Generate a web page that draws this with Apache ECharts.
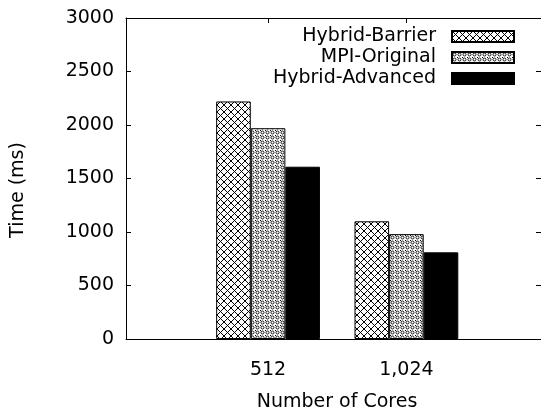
<!DOCTYPE html>
<html>
<head>
<meta charset="utf-8">
<script src="https://cdn.jsdelivr.net/npm/echarts@6/dist/echarts.min.js"></script>
<style>html,body{margin:0;padding:0;background:#fff}#c{width:541px;height:410px}</style>
</head>
<body>
<div id="c"></div>
<script>
var categories = ['512', '1,024'];
var seriesNames = ['Hybrid-Barrier', 'MPI-Original', 'Hybrid-Advanced'];
var hybridBarrier = [2220, 1100];
var mpiOriginal = [1970, 980];
var hybridAdvanced = [1610, 810];
var yTicks = [0, 500, 1000, 1500, 2000, 2500, 3000];

function makeHatch() {
  var s = 7, c = document.createElement('canvas');
  c.width = s; c.height = s;
  var g = c.getContext('2d');
  g.fillStyle = '#fff'; g.fillRect(0, 0, s, s);
  g.strokeStyle = '#000'; g.lineWidth = 1;
  g.beginPath();
  g.moveTo(-1, -1); g.lineTo(s + 1, s + 1);
  g.moveTo(-1, s + 1); g.lineTo(s + 1, -1);
  g.stroke();
  return c;
}
function makeDots() {
  var s = 5, c = document.createElement('canvas');
  c.width = s; c.height = s;
  var g = c.getContext('2d');
  g.fillStyle = '#fff'; g.fillRect(0, 0, s, s);
  g.strokeStyle = '#000'; g.lineWidth = 0.9;
  g.beginPath(); g.arc(2.5, 2.5, 1.5, 0, Math.PI * 2); g.stroke();
  g.fillStyle = '#000';
  g.fillRect(0, 0, 1, 1);
  return c;
}
var fills = [
  {image: makeHatch(), repeat: 'repeat'},
  {image: makeDots(), repeat: 'repeat'},
  '#000'
];
var values = [hybridBarrier, mpiOriginal, hybridAdvanced];
var FONT = 'DejaVu Sans';
var xMin = -1.027, xMax = 1.973;

var chart = echarts.init(document.getElementById('c'), null, {renderer: 'canvas'});
chart.setOption({
  animation: false,
  backgroundColor: '#fff',
  textStyle: {fontFamily: FONT},
  grid: {left: 126, right: 0, top: 18, bottom: 71, containLabel: false, outerBoundsMode: 'none'},
  legend: {
    orient: 'vertical', align: 'right', right: 26, top: 27, padding: 0,
    itemWidth: 62, itemHeight: 11, itemGap: 2, icon: 'rect',
    textStyle: {fontFamily: FONT, fontSize: 19, color: '#000', padding: [0, 11, 0, 0]},
    data: seriesNames
  },
  xAxis: [{
    type: 'value', min: xMin, max: xMax, position: 'bottom',
    name: 'Number of Cores', nameLocation: 'middle', nameGap: 54,
    nameTextStyle: {fontFamily: FONT, fontSize: 19, color: '#000', padding: [0, 0, 0, 7]},
    axisLine: {show: true, onZero: false, lineStyle: {color: '#000', width: 1}},
    axisTick: {show: true, inside: true, length: 5, customValues: [0, 1], lineStyle: {color: '#000'}},
    axisLabel: {customValues: [0, 1], margin: 22, fontFamily: FONT, fontSize: 19, color: '#000',
      formatter: function (v) { return categories[Math.round(v)]; }},
    splitLine: {show: false}
  }, {
    type: 'value', min: xMin, max: xMax, position: 'top',
    axisLine: {show: true, onZero: false, lineStyle: {color: '#000', width: 1}},
    axisTick: {show: true, inside: true, length: 5, customValues: [0, 1], lineStyle: {color: '#000'}},
    axisLabel: {show: false}, splitLine: {show: false}
  }],
  yAxis: [{
    type: 'value', min: 0, max: 3000, interval: 500, position: 'left',
    name: 'Time (ms)', nameLocation: 'middle', nameGap: 98, nameRotate: 90,
    nameTextStyle: {fontFamily: FONT, fontSize: 19, color: '#000', padding: [0, 23, 0, 0]},
    axisLine: {show: true, onZero: false, lineStyle: {color: '#000', width: 1}},
    axisTick: {show: true, inside: true, length: 5, lineStyle: {color: '#000'}},
    axisLabel: {margin: 12, fontFamily: FONT, fontSize: 19, color: '#000',
      formatter: function (v) { return yTicks.indexOf(v) >= 0 ? String(v) : ''; }},
    splitLine: {show: false}
  }, {
    type: 'value', min: 0, max: 3000, interval: 500, position: 'right',
    axisLine: {show: true, onZero: false, lineStyle: {color: '#000', width: 1}},
    axisTick: {show: true, inside: true, length: 5, lineStyle: {color: '#000'}},
    axisLabel: {show: false}, splitLine: {show: false}
  }],
  series: seriesNames.map(function (n, i) {
    return {
      name: n, type: 'bar', xAxisIndex: 0, yAxisIndex: 0,
      barWidth: 34.6, barGap: '0%',
      itemStyle: {color: fills[i], borderColor: '#000', borderWidth: 1},
      data: values[i].map(function (v, j) { return [j, v]; })
    };
  })
});
</script>
</body>
</html>
